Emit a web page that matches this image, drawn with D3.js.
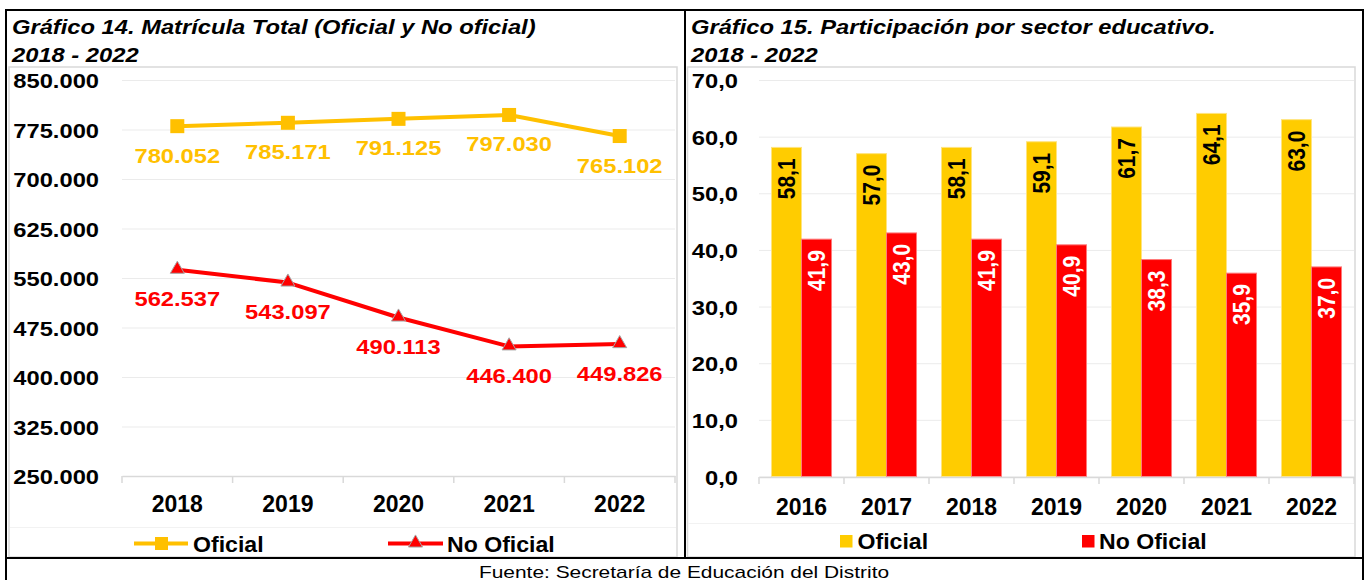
<!DOCTYPE html>
<html>
<head>
<meta charset="utf-8">
<script src="https://cdn.jsdelivr.net/npm/d3@7"></script>
<style>
  html, body { margin: 0; padding: 0; background: #fff; }
  svg { display: block; }
</style>
</head>
<body>
<svg id="chart" width="1368" height="580"></svg>
<script>
// ---------------- DATA ----------------
const years14 = ["2018", "2019", "2020", "2021", "2022"];
const oficial14 = [780052, 785171, 791125, 797030, 765102];
const noOficial14 = [562537, 543097, 490113, 446400, 449826];
const yTicks14 = [250000, 325000, 400000, 475000, 550000, 625000, 700000, 775000, 850000];

const years15 = ["2016", "2017", "2018", "2019", "2020", "2021", "2022"];
const oficial15 = [58.1, 57.0, 58.1, 59.1, 61.7, 64.1, 63.0];
const noOficial15 = [41.9, 43.0, 41.9, 40.9, 38.3, 35.9, 37.0];
const yTicks15 = [0, 10, 20, 30, 40, 50, 60, 70];

const seriesNames = ["Oficial", "No Oficial"];
const title14 = ["Gráfico 14. Matrícula Total (Oficial y No oficial)", "2018 - 2022"];
const title15 = ["Gráfico 15. Participación por sector educativo.", "2018 - 2022"];
const footer = "Fuente: Secretaría de Educación del Distrito";

// ---------------- SETUP ----------------
const locale = d3.formatLocale({ decimal: ",", thousands: ".", grouping: [3], currency: ["$", ""] });
const fmtInt = locale.format(",.0f");
const fmt1 = locale.format(".1f");

const FONT = "Arial, 'Liberation Sans', Helvetica, sans-serif";
const YELLOW_LINE = "#FFC000";
const YELLOW_BAR = "#FFCC00";
const RED = "#FF0000";
const GRID = "#EBEBEB";
const AXIS = "#D9D9D9";
const SX = 1.13;

const svg = d3.select("#chart");
svg.append("rect").attr("width", 1368).attr("height", 580).attr("fill", "#fff");

function addText(parent, x, y, str, o) {
  o = o || {};
  const t = parent.append("text")
    .attr("transform", `translate(${x},${y}) scale(${o.sx || 1},1)` + (o.rot ? ` rotate(${o.rot})` : ""))
    .attr("text-anchor", o.anchor || "start")
    .style("font-family", FONT)
    .style("font-size", (o.size || 16) + "px")
    .style("font-weight", o.weight || "bold")
    .style("font-style", o.style || "normal")
    .attr("fill", o.fill || "#000")
    .text(str);
  if (o.dy) t.attr("dy", o.dy);
  return t;
}

// ---------------- FRAMES ----------------
svg.append("rect").attr("x", 9).attr("y", 67).attr("width", 668).attr("height", 490)
  .attr("fill", "#fff").attr("stroke", AXIS).attr("stroke-width", 1.5);
svg.append("rect").attr("x", 687.5).attr("y", 67).attr("width", 667.5).attr("height", 490)
  .attr("fill", "#fff").attr("stroke", AXIS).attr("stroke-width", 1.5);
svg.append("line").attr("x1", 10).attr("x2", 676).attr("y1", 527.5).attr("y2", 527.5).attr("stroke", "#F2F2F2");
svg.append("line").attr("x1", 688).attr("x2", 1354).attr("y1", 523.5).attr("y2", 523.5).attr("stroke", "#F2F2F2");

const border = svg.append("g").attr("stroke", "#000").attr("stroke-width", 2).attr("fill", "none");
border.append("line").attr("x1", 5).attr("x2", 1364).attr("y1", 10).attr("y2", 10);
border.append("line").attr("x1", 6).attr("x2", 6).attr("y1", 9).attr("y2", 580);
border.append("line").attr("x1", 1363).attr("x2", 1363).attr("y1", 9).attr("y2", 580);
border.append("line").attr("x1", 685).attr("x2", 685).attr("y1", 9).attr("y2", 558);
border.append("line").attr("x1", 5).attr("x2", 1364).attr("y1", 558).attr("y2", 558);

addText(svg, 12, 33.5, title14[0], { size: 21, style: "italic", sx: SX });
addText(svg, 12, 61.5, title14[1], { size: 21, style: "italic", sx: SX });
addText(svg, 691, 33.5, title15[0], { size: 21, style: "italic", sx: SX });
addText(svg, 691, 61.5, title15[1], { size: 21, style: "italic", sx: SX });

addText(svg, 684, 577.5, footer, { size: 17, weight: "normal", anchor: "middle", sx: 1.23 });

// ================= CHART 14 (lines) =================
const g14 = svg.append("g");
const x14 = d3.scaleBand().domain(years14).range([122, 675]).padding(0);
const y14 = d3.scaleLinear().domain([250000, 850000]).range([476, 80]);

const yAxis14 = g14.append("g").attr("transform", "translate(122,0)")
  .call(d3.axisLeft(y14).tickValues(yTicks14).tickFormat(fmtInt).tickSize(-(675 - 122)).tickPadding(23));
yAxis14.select(".domain").remove();
yAxis14.selectAll(".tick line").attr("stroke", GRID).attr("stroke-width", 1);
yAxis14.selectAll(".tick text")
  .attr("x", -23 / SX).attr("dy", "0.36em").attr("transform", `scale(${SX},1)`)
  .attr("fill", "#000").style("font-family", FONT).style("font-size", "21px").style("font-weight", "bold");

const xAxis14 = g14.append("g").attr("transform", "translate(0,476)")
  .call(d3.axisBottom(x14).tickSize(0).tickPadding(0));
xAxis14.select(".domain").attr("stroke", AXIS).attr("stroke-width", 1.5);
xAxis14.selectAll(".tick text").attr("y", 36).attr("dy", 0)
  .attr("fill", "#000").style("font-family", FONT).style("font-size", "23px").style("font-weight", "bold");
d3.range(years14.length + 1).forEach(i => {
  const xx = x14.range()[0] + i * x14.step();
  xAxis14.append("line").attr("x1", xx).attr("x2", xx).attr("y1", 0).attr("y2", 7)
    .attr("stroke", AXIS).attr("stroke-width", 1.5);
});

const cx14 = d => x14(d) + x14.bandwidth() / 2;
const line14 = d3.line().x(d => cx14(d.year)).y(d => y14(d.v));
const dOf = years14.map((yr, i) => ({ year: yr, v: oficial14[i] }));
const dNo = years14.map((yr, i) => ({ year: yr, v: noOficial14[i] }));

g14.append("path").datum(dOf).attr("d", line14).attr("fill", "none")
  .attr("stroke", YELLOW_LINE).attr("stroke-width", 4).attr("stroke-linejoin", "round");
g14.append("path").datum(dNo).attr("d", line14).attr("fill", "none")
  .attr("stroke", RED).attr("stroke-width", 4).attr("stroke-linejoin", "round");

g14.selectAll(".sq").data(dOf).join("rect")
  .attr("x", d => cx14(d.year) - 7).attr("y", d => y14(d.v) - 7)
  .attr("width", 14).attr("height", 14).attr("fill", YELLOW_LINE);
const tri = d3.symbol().type(d3.symbolTriangle).size(85);
g14.selectAll(".tri").data(dNo).join("path")
  .attr("d", tri).attr("transform", d => `translate(${cx14(d.year)},${y14(d.v) - 0.5})`)
  .attr("fill", RED).attr("stroke", "#A6A6A6").attr("stroke-width", 1);

dOf.forEach(d => addText(g14, cx14(d.year), y14(d.v) + 36.5, fmtInt(d.v),
  { size: 21, anchor: "middle", fill: YELLOW_LINE, sx: SX }));
dNo.forEach(d => addText(g14, cx14(d.year), y14(d.v) + 36.5, fmtInt(d.v),
  { size: 21, anchor: "middle", fill: RED, sx: SX }));

const lg14 = g14.append("g");
lg14.append("line").attr("x1", 134).attr("x2", 188).attr("y1", 543.5).attr("y2", 543.5)
  .attr("stroke", YELLOW_LINE).attr("stroke-width", 4);
lg14.append("rect").attr("x", 155).attr("y", 537).attr("width", 13).attr("height", 13).attr("fill", YELLOW_LINE);
addText(lg14, 193, 551.5, seriesNames[0], { size: 22, sx: 1.05 });
lg14.append("line").attr("x1", 388).attr("x2", 443).attr("y1", 543.5).attr("y2", 543.5)
  .attr("stroke", RED).attr("stroke-width", 4);
lg14.append("path").attr("d", tri).attr("transform", "translate(415.5,543)")
  .attr("fill", RED).attr("stroke", "#A6A6A6").attr("stroke-width", 1);
addText(lg14, 447, 551.5, seriesNames[1], { size: 22, sx: 1.05 });

// ================= CHART 15 (bars) =================
const g15 = svg.append("g");
const x15 = d3.scaleBand().domain(years15).range([759, 1354]).paddingInner(0.294).paddingOuter(0.147);
const x15s = d3.scaleBand().domain(seriesNames).range([0, x15.bandwidth()]);
const y15 = d3.scaleLinear().domain([0, 70]).range([476.5, 80]);

const yAxis15 = g15.append("g").attr("transform", "translate(759,0)")
  .call(d3.axisLeft(y15).tickValues(yTicks15).tickFormat(fmt1).tickSize(-(1354 - 759)).tickPadding(21));
yAxis15.select(".domain").remove();
yAxis15.selectAll(".tick line").attr("stroke", GRID).attr("stroke-width", 1);
yAxis15.selectAll(".tick text")
  .attr("x", -21 / SX).attr("dy", "0.36em").attr("transform", `scale(${SX},1)`)
  .attr("fill", "#000").style("font-family", FONT).style("font-size", "21px").style("font-weight", "bold");

const rows15 = years15.map((yr, i) => ({ year: yr, vals: [oficial15[i], noOficial15[i]] }));
const grp = g15.selectAll(".grp").data(rows15).join("g")
  .attr("transform", d => `translate(${x15(d.year)},0)`);
const fills = [YELLOW_BAR, RED];
const strokes = ["#FFE47F", "#FF7A7A"];
const txtFill = ["#000", "#fff"];
grp.each(function (d) {
  const gg = d3.select(this);
  d.vals.forEach((v, k) => {
    const bx = x15s(seriesNames[k]);
    gg.append("rect").attr("x", bx).attr("y", y15(v)).attr("width", x15s.bandwidth())
      .attr("height", y15(0) - y15(v)).attr("fill", fills[k]).attr("stroke", strokes[k]).attr("stroke-width", 1);
    addText(gg, bx + x15s.bandwidth() / 2, y15(v) + 11, fmt1(v),
      { size: 21, anchor: "end", rot: -90, dy: "0.36em", fill: txtFill[k], sx: SX });
  });
});

const xAxis15 = g15.append("g").attr("transform", "translate(0,477)")
  .call(d3.axisBottom(x15).tickSize(0).tickPadding(0));
xAxis15.select(".domain").attr("stroke", AXIS).attr("stroke-width", 1.5);
xAxis15.selectAll(".tick text").attr("y", 38).attr("dy", 0)
  .attr("fill", "#000").style("font-family", FONT).style("font-size", "23px").style("font-weight", "bold");
d3.range(years15.length + 1).forEach(i => {
  const xx = x15.range()[0] + i * x15.step();
  xAxis15.append("line").attr("x1", xx).attr("x2", xx).attr("y1", 0).attr("y2", 7)
    .attr("stroke", AXIS).attr("stroke-width", 1.5);
});

const lg15 = g15.append("g");
lg15.append("rect").attr("x", 840).attr("y", 535).attr("width", 12.5).attr("height", 12.5).attr("fill", YELLOW_BAR);
addText(lg15, 857.5, 548.5, seriesNames[0], { size: 22, sx: 1.05 });
lg15.append("rect").attr("x", 1082).attr("y", 535).attr("width", 12.5).attr("height", 12.5).attr("fill", RED);
addText(lg15, 1099, 548.5, seriesNames[1], { size: 22, sx: 1.05 });
</script>
</body>
</html>
